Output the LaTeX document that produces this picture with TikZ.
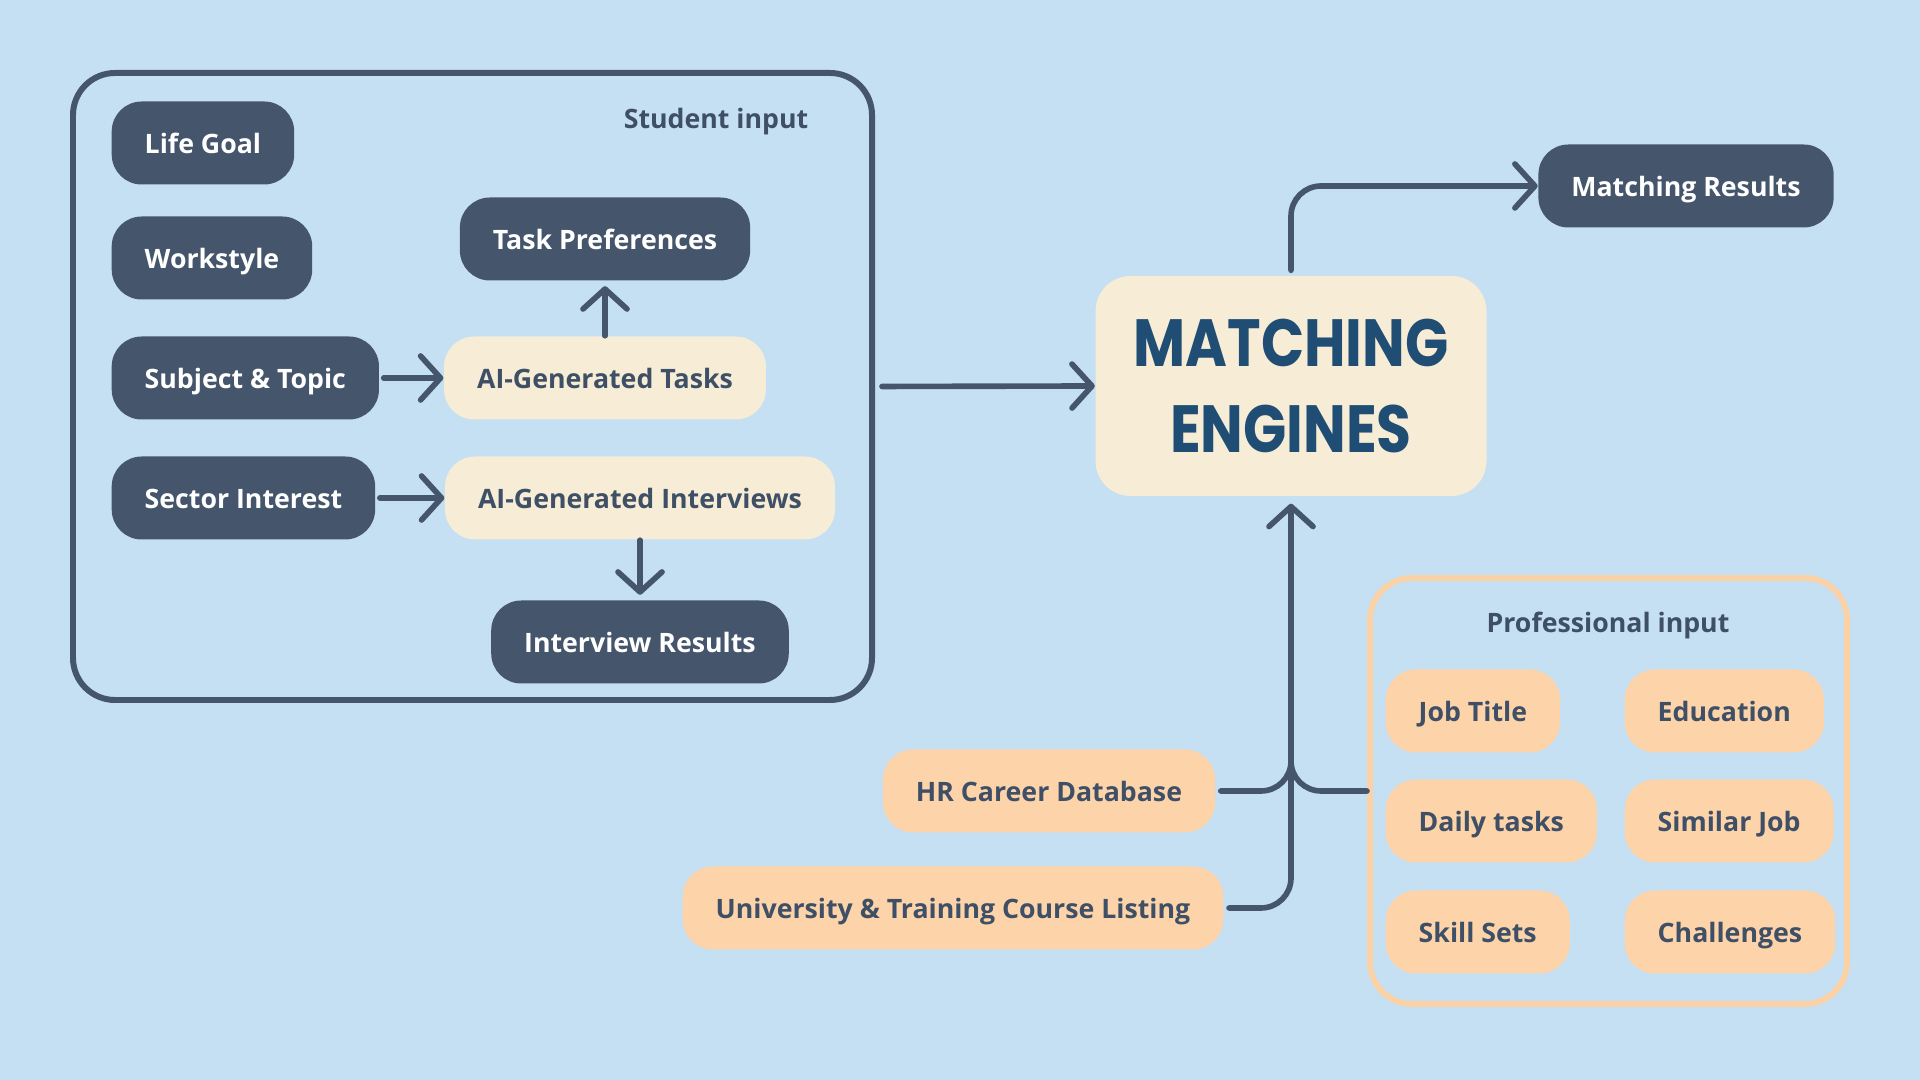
\documentclass[tikz,border=0pt]{standalone}
\usepackage{fontspec}
\usepackage{graphicx}
\setmainfont{Open Sans}
\newfontfamily\enginefont{Poppins}
\usepackage{tikz}
\usetikzlibrary{arrows.meta,positioning}

\definecolor{bgblue}{HTML}{C5DFF3}
\definecolor{slate}{HTML}{44556C}
\definecolor{inktext}{HTML}{3E4F66}
\definecolor{cream}{HTML}{F7EDD6}
\definecolor{peach}{HTML}{FDD4AA}
\definecolor{peachline}{HTML}{FBD2A6}
\definecolor{engineblue}{HTML}{1F4D74}

\begin{document}
\begin{tikzpicture}[
    sbox/.style={rectangle, rounded corners=0.3cm, fill=slate, text=white,
                 minimum height=0.83cm, inner xsep=0.33cm,
                 text height=1.55ex, text depth=0.45ex,
                 font=\fontsize{7.6}{9.2}\selectfont\bfseries},
    cbox/.style={sbox, fill=cream, text=inktext},
    pbox/.style={sbox, fill=peach, text=inktext},
    frame/.style={draw=slate, line width=1.7pt, rounded corners=0.42cm},
    ttl/.style={font=\fontsize{7.6}{9.2}\selectfont\bfseries, text=inktext},
    conn/.style={draw=slate, line width=1.6pt, line cap=round},
    sarr/.style={conn, -{Straight Barb[length=0.2cm, width=0.44cm, round]}},
]
% background sets the page size
\fill[bgblue] (0,0) rectangle (19.2,10.8);

%% ── Student input ─────────────────────────────────────────────────────────────
\node[frame, minimum width=7.99cm, minimum height=6.27cm] (sb) at (4.725,6.935) {};
\node[ttl] (sl) at (7.16,9.58) {Student input};

\node[sbox, anchor=west] (lg) at (1.11,9.37) {Life Goal};
\node[sbox, anchor=west] (ws) at (1.11,8.22) {Workstyle};
\node[sbox, anchor=west] (st) at (1.11,7.02) {Subject \& Topic};
\node[sbox, anchor=west] (si) at (1.11,5.82) {Sector Interest};

\node[sbox] (tp) at (6.05,8.41) {Task Preferences};
\node[cbox] (at) at (6.05,7.02) {AI-Generated Tasks};
\node[cbox] (ai) at (6.40,5.82) {AI-Generated Interviews};
\node[sbox] (ir) at (6.40,4.38) {Interview Results};

% arrows inside the student box
\draw[sarr, shorten <=0.04cm] (st.east) -- (at.west);
\draw[sarr, shorten <=0.04cm] (si.east) -- (ai.west);
\draw[sarr, shorten >=0.05cm] (at.north) -- (tp.south);
\draw[sarr, shorten >=0.05cm] (ai.south) -- (ir.north);

%% ── Matching engine ───────────────────────────────────────────────────────────
\node[rectangle, rounded corners=0.35cm, fill=cream, text=engineblue,
      minimum width=3.91cm, minimum height=2.20cm, align=center,
      font=\enginefont\fontsize{19}{24.7}\selectfont\bfseries] (eng) at (12.91,6.94)
      {\scalebox{0.85}[1]{MATCHING}\\\scalebox{0.85}[1]{ENGINES}};

\node[sbox] (mr) at (16.86,8.94) {Matching Results};

\draw[sarr, shorten <=0.07cm] (sb.east) -- (eng.west);
\draw[sarr, rounded corners=0.3cm, shorten <=0.05cm] (eng.north) |- (mr.west);

%% ── Professional input ────────────────────────────────────────────────────────
\node[frame, draw=peachline, minimum width=4.77cm, minimum height=4.26cm] (pb) at (16.085,2.89) {};
\node[ttl] (pl) at (16.08,4.55) {Professional input};

\node[pbox, anchor=west] (jt) at (13.85,3.69) {Job Title};
\node[pbox, anchor=west] (ed) at (16.24,3.69) {Education};
\node[pbox, anchor=west] (dt) at (13.85,2.59) {Daily tasks};
\node[pbox, anchor=west] (sj) at (16.24,2.59) {Similar Job};
\node[pbox, anchor=west] (ss) at (13.85,1.48) {Skill Sets};
\node[pbox, anchor=west] (ch) at (16.24,1.48) {Challenges};

%% ── Data sources ──────────────────────────────────────────────────────────────
\node[pbox] (hr) at (10.49,2.89) {HR Career Database};
\node[pbox] (un) at (9.53,1.72)  {University \& Training Course Listing};

\coordinate (jn) at ([yshift=0.45cm]eng.south |- hr);

% feeds into the engine
\draw[sarr, rounded corners=0.3cm, shorten <=0.05cm, shorten >=0.07cm] (un.east) -| (eng.south);
\draw[conn, rounded corners=0.3cm, shorten <=0.05cm] (hr.east) -| (jn);
\draw[conn, rounded corners=0.3cm] (pb.west) -| (jn);

\end{tikzpicture}
\end{document}
